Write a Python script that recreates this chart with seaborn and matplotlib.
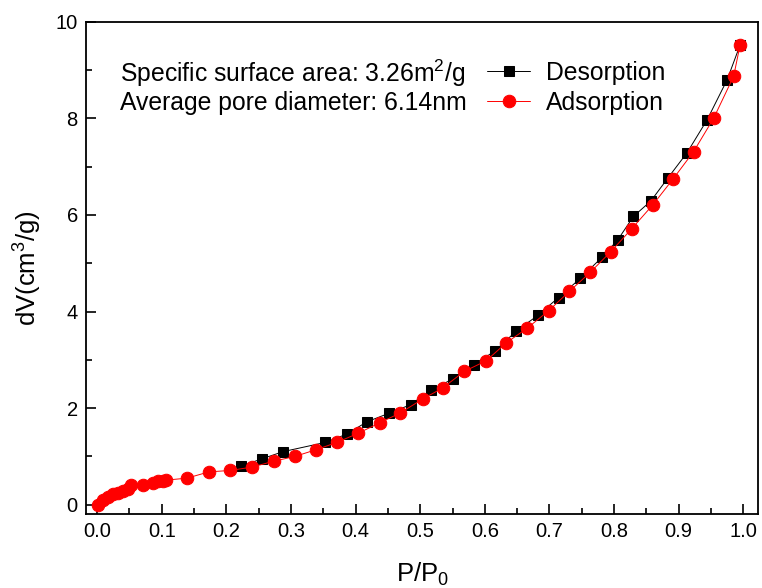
import matplotlib
matplotlib.use("Agg")
import matplotlib.pyplot as plt
import seaborn as sns
import pandas as pd

des_x = [0.223, 0.255, 0.288, 0.353, 0.386, 0.418, 0.451, 0.485, 0.516, 0.550,
         0.584, 0.616, 0.649, 0.682, 0.714, 0.748, 0.781, 0.806, 0.830, 0.857,
         0.883, 0.913, 0.944, 0.975, 0.995]
des_y = [0.80, 0.95, 1.10, 1.29, 1.46, 1.72, 1.89, 2.07, 2.37, 2.60,
         2.90, 3.19, 3.60, 3.92, 4.29, 4.69, 5.12, 5.49, 5.97, 6.29,
         6.76, 7.29, 7.97, 8.80, 9.52]

ads_x = [0.001, 0.009, 0.017, 0.024, 0.032, 0.040, 0.048, 0.053, 0.071, 0.086,
         0.094, 0.102, 0.107, 0.139, 0.173, 0.206, 0.240, 0.273, 0.306, 0.339,
         0.371, 0.404, 0.438, 0.469, 0.504, 0.535, 0.568, 0.602, 0.633, 0.666,
         0.699, 0.731, 0.763, 0.795, 0.827, 0.860, 0.891, 0.923, 0.954, 0.985,
         0.995]
ads_y = [0.00, 0.10, 0.17, 0.22, 0.25, 0.28, 0.33, 0.40, 0.41, 0.45,
         0.49, 0.50, 0.51, 0.55, 0.68, 0.71, 0.78, 0.90, 1.00, 1.14,
         1.29, 1.48, 1.70, 1.90, 2.19, 2.42, 2.76, 2.98, 3.35, 3.66,
         4.02, 4.42, 4.81, 5.24, 5.71, 6.21, 6.74, 7.31, 8.00, 8.87,
         9.52]

x_ticks = [0.0, 0.1, 0.2, 0.3, 0.4, 0.5, 0.6, 0.7, 0.8, 0.9, 1.0]
y_ticks = [0, 2, 4, 6, 8, 10]
annot_lines = ["Specific surface area: 3.26m$^2$/g", "Average pore diameter: 6.14nm"]

sns.set_style("ticks")
plt.rcParams['font.family'] = ['Liberation Sans', 'DejaVu Sans']
plt.rcParams['mathtext.fontset'] = 'custom'
plt.rcParams['mathtext.rm'] = 'Liberation Sans'
plt.rcParams['mathtext.it'] = 'Liberation Sans'
for k in ['text.color', 'axes.labelcolor', 'xtick.color', 'ytick.color', 'axes.edgecolor']:
    plt.rcParams[k] = 'black'

fig = plt.figure(figsize=(7.62, 5.88), dpi=100)
ax = fig.add_axes([0.113, 0.126, 0.882, 0.837])

des = pd.DataFrame({"x": des_x, "y": des_y})
ads = pd.DataFrame({"x": ads_x, "y": ads_y})

sns.lineplot(data=des, x="x", y="y", ax=ax, sort=False, color="black", lw=0.7,
             marker="s", markersize=7.5, markeredgecolor="black", label="Desorption")
sns.lineplot(data=ads, x="x", y="y", ax=ax, sort=False, color="red", lw=0.7,
             marker="o", markersize=9, markeredgecolor="red", label="Adsorption")

ax.set_xlim(-0.017, 1.023)
ax.set_ylim(-0.19, 10.0)
ax.set_xticks(x_ticks)
ax.set_xticklabels([f"{v:.1f}" for v in x_ticks])
ax.set_yticks(y_ticks)
ax.set_yticklabels([str(v) for v in y_ticks])
ax.set_xticks([v + 0.05 for v in x_ticks[:-1]], minor=True)
ax.set_yticks([1, 3, 5, 7, 9], minor=True)
ax.tick_params(which="major", direction="in", length=7, width=1.2, labelsize=14.5, pad=6)
ax.tick_params(which="minor", direction="in", length=4, width=1.2)
for s in ax.spines.values():
    s.set_linewidth(1.3)
    s.set_visible(True)
    s.set_color("black")

ax.set_xlabel("P/P$_0$", fontsize=18.5, labelpad=14)
ax.set_ylabel("dV(cm$^3$/g)", fontsize=18.5, labelpad=8)

fs = 17.8
ax.text(0.05, 0.895, annot_lines[0], transform=ax.transAxes, fontsize=fs, va="center")
ax.text(0.05, 0.835, annot_lines[1], transform=ax.transAxes, fontsize=fs, va="center")

leg = ax.legend(loc="upper left", bbox_to_anchor=(0.597, 0.92), frameon=False,
                fontsize=fs, handlelength=1.72, handletextpad=0.64, labelspacing=0.24,
                borderaxespad=0, borderpad=0)

fig.savefig("out.png", dpi=100)
